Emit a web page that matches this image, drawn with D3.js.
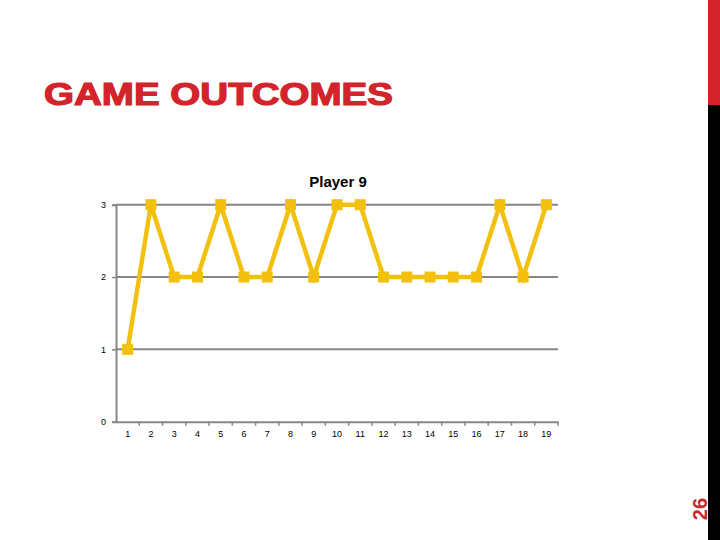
<!DOCTYPE html>
<html lang="en">
<head>
    <meta charset="UTF-8">
    <title>Game Outcomes</title>
    <style>
        body {
            margin: 0;
            overflow: hidden;
            background: #fff;
        }
        .tick text {
            font-family: Arial, "Liberation Sans", sans-serif;
            font-size: 9px;
            fill: #000;
        }
    </style>
</head>
<body>
    <svg id="canvas" width="720" height="540"></svg>
    <script src="https://d3js.org/d3.v7.min.js"></script>
    <script>
        // game number and result for each game
        const games = ["1", "2", "3", "4", "5", "6", "7", "8", "9", "10",
                       "11", "12", "13", "14", "15", "16", "17", "18", "19"];
        const outcomes = [1, 3, 2, 2, 3, 2, 2, 3, 2, 3, 3, 2, 2, 2, 2, 2, 3, 2, 3];
        const yTicks = [0, 1, 2, 3];

        const svg = d3.select("#canvas");

        // slide decoration: side bar and page number
        svg.append("rect").attr("x", 708).attr("y", 0).attr("width", 12).attr("height", 540).attr("fill", "#000");
        svg.append("rect").attr("x", 708).attr("y", 0).attr("width", 12).attr("height", 105).attr("fill", "#d3242c");
        svg.append("text")
            .attr("transform", "translate(707,509) rotate(-90)")
            .attr("text-anchor", "middle")
            .attr("font-family", "Arial, 'Liberation Sans', sans-serif")
            .attr("font-weight", "bold")
            .attr("font-size", 20)
            .attr("fill", "#c8282e")
            .text("26");

        svg.append("text")
            .attr("x", 44).attr("y", 105)
            .attr("font-family", "Arial, 'Liberation Sans', sans-serif")
            .attr("font-weight", "bold")
            .attr("font-size", 30.5)
            .attr("textLength", 349)
            .attr("lengthAdjust", "spacingAndGlyphs")
            .attr("fill", "#d3242c")
            .attr("stroke", "#d3242c")
            .attr("stroke-width", 1.2)
            .text("GAME OUTCOMES");

        const plotL = 116, plotR = 558, plotT = 204.7, plotB = 421.7;

        const x = d3.scaleBand().domain(games).range([plotL, plotR]);
        const y = d3.scaleLinear().domain([0, 3]).range([plotB, plotT]);

        svg.append("text")
            .attr("x", 338).attr("y", 187)
            .attr("text-anchor", "middle")
            .attr("font-family", "Arial, 'Liberation Sans', sans-serif")
            .attr("font-weight", "bold")
            .attr("font-size", 15)
            .text("Player 9");

        // gridlines
        svg.append("g")
            .selectAll("line")
            .data(yTicks.filter(d => d > 0))
            .join("line")
            .attr("x1", plotL).attr("x2", plotR)
            .attr("y1", d => y(d)).attr("y2", d => y(d))
            .attr("stroke", "#878787").attr("stroke-width", 2);

        const yAxis = svg.append("g")
            .attr("transform", `translate(${plotL},0)`)
            .call(d3.axisLeft(y).tickValues(yTicks).tickSize(4).tickPadding(6).tickFormat(d3.format("d")));
        yAxis.select(".domain").attr("stroke", "#878787").attr("stroke-width", 2);
        yAxis.selectAll(".tick line").attr("stroke", "#878787").attr("stroke-width", 1.5);

        const xAxis = svg.append("g")
            .attr("transform", `translate(0,${plotB})`)
            .call(d3.axisBottom(x).tickSize(0).tickPadding(9));
        xAxis.select(".domain").attr("stroke", "#878787").attr("stroke-width", 2);
        // tick marks at category boundaries
        xAxis.selectAll(".bound")
            .data(games)
            .join("line")
            .attr("class", "bound")
            .attr("x1", d => x(d) + x.bandwidth()).attr("x2", d => x(d) + x.bandwidth())
            .attr("y1", 0).attr("y2", 4)
            .attr("stroke", "#878787").attr("stroke-width", 1.5);

        const line = d3.line()
            .x((d, i) => x(games[i]) + x.bandwidth() / 2)
            .y(d => y(d));

        svg.append("path")
            .datum(outcomes)
            .attr("d", line)
            .attr("fill", "none")
            .attr("stroke", "#f2c00e")
            .attr("stroke-width", 4.5)
            .attr("stroke-linejoin", "miter");

        const s = 11;
        svg.append("g")
            .selectAll("rect")
            .data(outcomes)
            .join("rect")
            .attr("x", (d, i) => x(games[i]) + x.bandwidth() / 2 - s / 2)
            .attr("y", d => y(d) - s / 2)
            .attr("width", s).attr("height", s)
            .attr("fill", "#f2c00e");
    </script>
</body>
</html>
